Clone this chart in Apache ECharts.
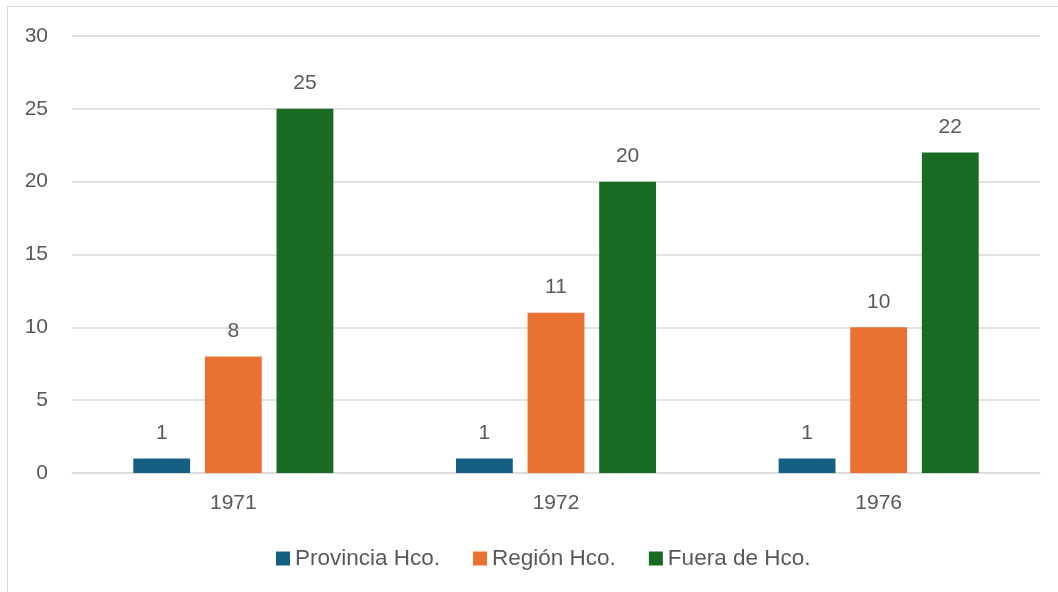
<!DOCTYPE html>
<html>
<head>
<meta charset="utf-8">
<style>
  html, body { margin: 0; padding: 0; background: #fff; }
  #frame { position: absolute; left: 7px; top: 6px; width: 1060px; height: 600px;
           border: 1.5px solid #d9d9d9; box-sizing: border-box; }
  #chart { position: absolute; left: 0; top: 0; width: 1058px; height: 592px; }
</style>
<script src="https://cdn.jsdelivr.net/npm/echarts@6/dist/echarts.min.js"></script>
</head>
<body>
<div id="frame"></div>
<div id="chart"></div>
<script>
const years = ['1971', '1972', '1976'];
const provincia = [1, 1, 1];
const region = [8, 11, 10];
const fuera = [25, 20, 22];
const yTicks = { min: 0, max: 30, interval: 5 };

const textColor = '#595959';
const font = '"Liberation Sans", Arial, sans-serif';

function barSeries(name, data, color) {
  return {
    name, type: 'bar', data,
    barGap: '26%', barCategoryGap: '38%',
    itemStyle: { color },
    label: { show: true, position: 'top', distance: 15, color: textColor,
             fontSize: 21, fontFamily: font }
  };
}

const chart = echarts.init(document.getElementById('chart'));
chart.setOption({
  animation: false,
  grid: { left: 72, right: 18, top: 36, bottom: 119, containLabel: false },
  legend: {
    top: 542, left: 271, itemWidth: 14, itemHeight: 14, itemGap: 33,
    itemTextGap: 7, icon: 'rect',
    textStyle: { color: textColor, fontSize: 22.5, fontFamily: font }
  },
  xAxis: {
    type: 'category', data: years,
    axisLine: { lineStyle: { color: '#d9d9d9', width: 1.5 } },
    axisTick: { show: false },
    axisLabel: { color: textColor, fontSize: 21, fontFamily: font, margin: 20 }
  },
  yAxis: {
    type: 'value', min: yTicks.min, max: yTicks.max, interval: yTicks.interval,
    axisLine: { show: false }, axisTick: { show: false },
    splitLine: { lineStyle: { color: '#d9d9d9', width: 1.5 } },
    axisLabel: { color: textColor, fontSize: 21, fontFamily: font, margin: 24 }
  },
  series: [
    barSeries('Provincia Hco.', provincia, '#156082'),
    barSeries('Región Hco.', region, '#E97132'),
    barSeries('Fuera de Hco.', fuera, '#196B24')
  ]
});
</script>
</body>
</html>
